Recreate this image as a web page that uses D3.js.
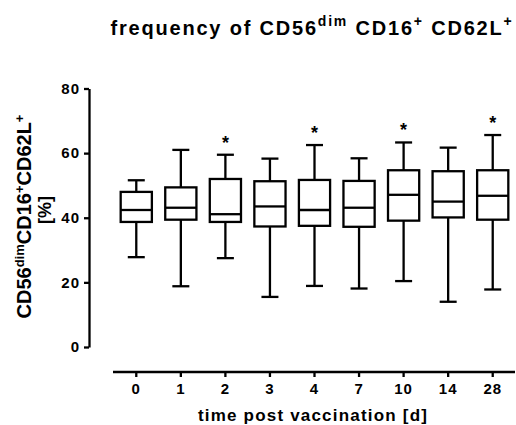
<!DOCTYPE html>
<html>
<head>
<meta charset="utf-8">
<script src="https://cdnjs.cloudflare.com/ajax/libs/d3/7.8.5/d3.min.js"></script>
<style>
  body { margin: 0; background: #fff; }
  text { font-family: "Liberation Sans", Arial, sans-serif; font-weight: bold; fill: #000; }
</style>
</head>
<body>
<svg id="chart" width="516" height="425"></svg>
<script>
// days post vaccination
var days = ['0', '1', '2', '3', '4', '7', '10', '14', '28'];
// box plot values (%)
var mins    = [27.8, 18.8, 27.5, 15.5, 18.9, 18.1, 20.4, 14.0, 17.8];
var q1s     = [38.7, 39.4, 38.7, 37.3, 37.5, 37.2, 39.1, 40.1, 39.4];
var medians = [42.4, 43.1, 41.1, 43.5, 42.4, 43.1, 47.1, 45.0, 46.8];
var q3s     = [48.0, 49.4, 52.0, 51.3, 51.7, 51.4, 54.7, 54.4, 54.7];
var maxs    = [51.6, 61.0, 59.5, 58.3, 62.5, 58.4, 63.3, 61.7, 65.6];
var signif  = [false, false, true, false, true, false, true, false, true];
var yTicks  = [0, 20, 40, 60, 80];

var svg = d3.select('#chart');

var x = d3.scaleBand().domain(days).range([114, 515]).padding(0);
var y = d3.scaleLinear().domain([0, 80]).range([347, 88.5]);

var boxW = x.bandwidth() * 0.7;
var capW = 17;
var sw = 2.3;

// y axis
var yAxis = svg.append('g')
  .attr('transform', 'translate(89,0)')
  .call(d3.axisLeft(y).tickValues(yTicks).tickSize(5).tickSizeOuter(0).tickPadding(4));
yAxis.select('.domain').attr('stroke-width', sw);
yAxis.selectAll('.tick line').attr('stroke-width', sw);
yAxis.selectAll('.tick text')
  .style('font-size', '15px').style('font-family', '"Liberation Sans", Arial, sans-serif')
  .style('font-weight', 'bold').style('letter-spacing', '1px');

// x axis
var xAxis = svg.append('g')
  .attr('transform', 'translate(0,372)')
  .call(d3.axisBottom(x).tickSize(5).tickSizeOuter(0).tickPadding(6));
xAxis.select('.domain').attr('stroke-width', sw).attr('d', 'M113,0H515');
xAxis.selectAll('.tick line').attr('stroke-width', sw);
xAxis.selectAll('.tick text')
  .style('font-size', '15px').style('font-family', '"Liberation Sans", Arial, sans-serif')
  .style('font-weight', 'bold').style('letter-spacing', '1px');

var data = days.map(function(d, i) {
  return { day: d, min: mins[i], q1: q1s[i], med: medians[i], q3: q3s[i], max: maxs[i], sig: signif[i] };
});

var g = svg.append('g').attr('stroke', '#000').attr('stroke-width', sw).attr('fill', 'none');

var boxes = g.selectAll('.box').data(data).enter().append('g').attr('class', 'box');

boxes.each(function(d) {
  var b = d3.select(this);
  var cx = x(d.day) + x.bandwidth() / 2;
  // whiskers
  b.append('line').attr('x1', cx).attr('x2', cx).attr('y1', y(d.max)).attr('y2', y(d.q3));
  b.append('line').attr('x1', cx).attr('x2', cx).attr('y1', y(d.q1)).attr('y2', y(d.min));
  b.append('line').attr('x1', cx - capW / 2).attr('x2', cx + capW / 2).attr('y1', y(d.max)).attr('y2', y(d.max));
  b.append('line').attr('x1', cx - capW / 2).attr('x2', cx + capW / 2).attr('y1', y(d.min)).attr('y2', y(d.min));
  // box
  b.append('rect').attr('x', cx - boxW / 2).attr('y', y(d.q3)).attr('width', boxW).attr('height', y(d.q1) - y(d.q3));
  b.append('line').attr('x1', cx - boxW / 2).attr('x2', cx + boxW / 2).attr('y1', y(d.med)).attr('y2', y(d.med));
  if (d.sig) {
    svg.append('text').attr('x', cx).attr('y', y(d.max) - 6)
      .attr('text-anchor', 'middle').style('font-size', '18px').text('*');
  }
});

// title
var title = svg.append('text').attr('x', 312).attr('y', 35).attr('text-anchor', 'middle')
  .style('font-size', '20px').style('letter-spacing', '1.8px');
title.append('tspan').text('frequency of CD56');
title.append('tspan').attr('dy', -9).style('font-size', '14px').text('dim');
title.append('tspan').attr('dy', 9).text(' CD16');
title.append('tspan').attr('dy', -9).style('font-size', '14px').text('+');
title.append('tspan').attr('dy', 9).text(' CD62L');
title.append('tspan').attr('dy', -9).style('font-size', '14px').text('+');

// y label
var yl = svg.append('text').attr('transform', 'translate(30.5,216.5) rotate(-90)').attr('text-anchor', 'middle').style('font-size', '20px');
yl.append('tspan').text('CD56');
yl.append('tspan').attr('dy', -7).style('font-size', '13px').text('dim');
yl.append('tspan').attr('dy', 7).text('CD16');
yl.append('tspan').attr('dy', -7).style('font-size', '13px').text('+');
yl.append('tspan').attr('dy', 7).text('CD62L');
yl.append('tspan').attr('dy', -7).style('font-size', '13px').text('+');
svg.append('text').attr('transform', 'translate(51,210) rotate(-90)').attr('text-anchor', 'middle').style('font-size', '18px').text('[%]');

// x label
svg.append('text').attr('x', 313).attr('y', 421).attr('text-anchor', 'middle')
  .style('font-size', '17px').style('letter-spacing', '1.2px').text('time post vaccination [d]');
</script>
</body>
</html>
